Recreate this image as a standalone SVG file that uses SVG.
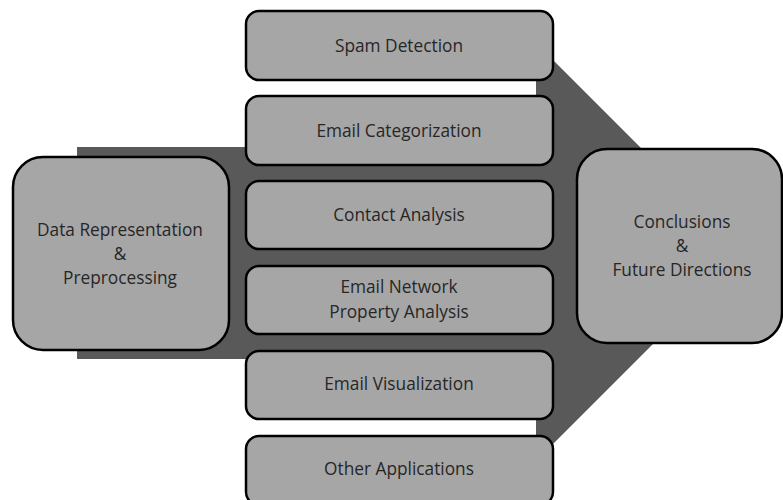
<svg xmlns="http://www.w3.org/2000/svg" width="783" height="500" viewBox="0 0 783 500">
<style>
.box{fill:#a6a6a6;stroke:#000;stroke-width:2.5}
.band{fill:#595959}
.t{font-family:"Open Sans","Liberation Sans",sans-serif;font-size:17.3px;fill:#262626;text-anchor:middle}
</style>
<rect width="783" height="500" fill="#fff"/>
<g id="connectors">
<rect class="band" x="77" y="147" width="470" height="212"/>
<polygon class="band" points="536,43 553,60 745,252 553,444 536,461"/>
</g>
<g id="n-left">
<rect class="box" x="13" y="157" width="216" height="193" rx="30"/>
<text class="t" x="120" y="236">Data Representation</text>
<text class="t" x="120" y="260">&amp;</text>
<text class="t" x="120" y="284">Preprocessing</text>
</g>
<g id="n-spam">
<rect class="box" x="246" y="11" width="307" height="69" rx="13"/>
<text class="t" x="399" y="52">Spam Detection</text>
</g>
<g id="n-cat">
<rect class="box" x="246" y="96" width="307" height="69" rx="13"/>
<text class="t" x="399" y="137">Email Categorization</text>
</g>
<g id="n-contact">
<rect class="box" x="246" y="181" width="307" height="68" rx="13"/>
<text class="t" x="399" y="221">Contact Analysis</text>
</g>
<g id="n-network">
<rect class="box" x="246" y="266" width="307" height="68" rx="13"/>
<text class="t" x="399" y="293">Email Network</text>
<text class="t" x="399" y="318">Property Analysis</text>
</g>
<g id="n-vis">
<rect class="box" x="246" y="351" width="307" height="68" rx="13"/>
<text class="t" x="399" y="390">Email Visualization</text>
</g>
<g id="n-other">
<rect class="box" x="246" y="436" width="307" height="69" rx="13"/>
<text class="t" x="399" y="475">Other Applications</text>
</g>
<g id="n-right">
<rect class="box" x="577" y="149" width="205" height="194" rx="30"/>
<text class="t" x="682" y="228">Conclusions</text>
<text class="t" x="682" y="252">&amp;</text>
<text class="t" x="682" y="276">Future Directions</text>
</g>
</svg>
